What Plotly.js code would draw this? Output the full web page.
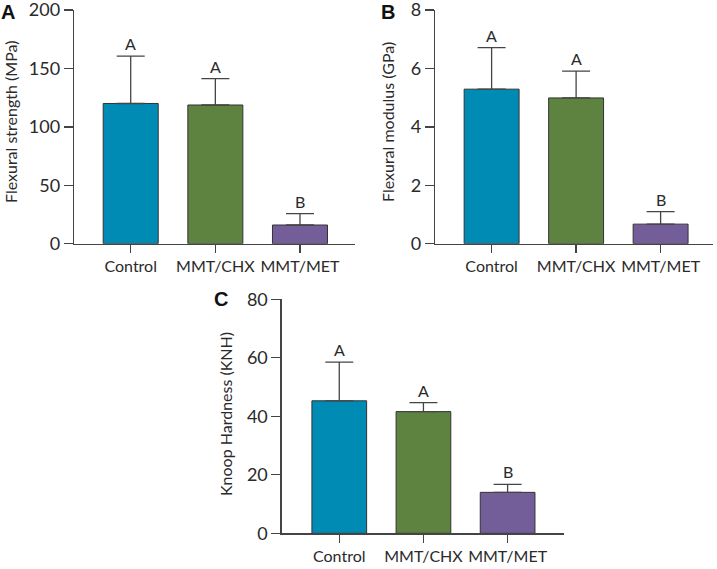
<!DOCTYPE html>
<html>
<head>
<meta charset="utf-8">
<script src="https://cdn.plot.ly/plotly-3.0.1.min.js"></script>
<style>html,body{margin:0;padding:0;background:#fff;}#chart{width:717px;height:569px;}</style>
</head>
<body>
<div id="chart"></div>
<script>
// ---- data ----
const categories = ["Control", "MMT/CHX", "MMT/MET"];

const strengthMean = [120, 118.7, 16];
const strengthErr = [40.6, 22.5, 9.7];
const strengthLetters = ["A", "A", "B"];

const modulusMean = [5.29, 4.99, 0.67];
const modulusErr = [1.42, 0.92, 0.43];
const modulusLetters = ["A", "A", "B"];

const hardnessMean = [45.3, 41.6, 14.0];
const hardnessErr = [13.2, 3.1, 2.75];
const hardnessLetters = ["A", "A", "B"];

const yTitles = ["Flexural strength (MPa)", "Flexural modulus (GPa)", "Knoop Hardness (KNH)"];
const panelLabels = ["A", "B", "C"];

// ---- styles ----
const barColors = ["#008BB5", "#5E8340", "#745E9A"];
const FONT = "Lato, 'Noto Sans', sans-serif";
const textColor = "#2a2a2a";
const lineColor = "#444";
const W = 717, H = 569;

function barTrace(means, errs, xa, ya) {
  return {
    type: "bar",
    x: categories,
    y: means,
    xaxis: xa,
    yaxis: ya,
    width: 0.65,
    marker: { color: barColors, line: { color: "#333", width: 1 } },
    error_y: {
      type: "data", symmetric: false, array: errs,
      arrayminus: errs.map(() => 0),
      color: lineColor, thickness: 1.3, width: 14
    },
    hoverinfo: "skip",
    showlegend: false
  };
}

const data = [
  barTrace(strengthMean, strengthErr, "x", "y"),
  barTrace(modulusMean, modulusErr, "x2", "y2"),
  barTrace(hardnessMean, hardnessErr, "x3", "y3")
];

function xAxis(d0, d1, r, anchor) {
  return {
    domain: [d0 / W, d1 / W], range: r, anchor: anchor,
    type: "category", showline: true, linecolor: lineColor, linewidth: 1.3,
    ticks: "outside", ticklen: 8, tickcolor: lineColor, tickwidth: 1.3,
    showgrid: false, zeroline: false, fixedrange: true,
    tickfont: { family: FONT, size: 16, color: textColor }
  };
}
function yAxis(top, bottom, r, dt, anchor) {
  return {
    domain: [1 - bottom / H, 1 - top / H], range: r, dtick: dt, anchor: anchor,
    showline: true, linecolor: lineColor, linewidth: 1.3,
    ticks: "outside", ticklen: 9, tickcolor: lineColor, tickwidth: 1.3,
    showgrid: false, zeroline: false, fixedrange: true,
    ticklabeloverflow: "allow",
    tickfont: { family: FONT, size: 18, color: textColor }
  };
}

const annotations = [];
function addLetters(means, errs, letters, xref, yref) {
  for (let i = 0; i < categories.length; i++) {
    annotations.push({
      x: categories[i], y: means[i] + errs[i], xref: xref, yref: yref,
      text: letters[i], showarrow: false, yanchor: "bottom", yshift: 1,
      font: { family: FONT, size: 16, color: textColor }
    });
  }
}
addLetters(strengthMean, strengthErr, strengthLetters, "x", "y");
addLetters(modulusMean, modulusErr, modulusLetters, "x2", "y2");
addLetters(hardnessMean, hardnessErr, hardnessLetters, "x3", "y3");

// axis titles as rotated annotations
const titlePos = [[10, 122], [387, 122], [225, 414]];
titlePos.forEach((p, i) => {
  annotations.push({
    x: p[0] / W, y: 1 - p[1] / H, xref: "paper", yref: "paper",
    text: yTitles[i], textangle: -90, showarrow: false,
    xanchor: "center", yanchor: "middle",
    font: { family: FONT, size: 16, color: textColor }
  });
});
// panel labels
const labelPos = [[8, 12], [388, 12], [221, 299]];
labelPos.forEach((p, i) => {
  annotations.push({
    x: p[0] / W, y: 1 - p[1] / H, xref: "paper", yref: "paper",
    text: "<b>" + panelLabels[i] + "</b>", showarrow: false,
    xanchor: "center", yanchor: "middle", borderpad: 0,
    font: { family: "'Liberation Sans', Arial, sans-serif", size: 20, color: "#111" }
  });
});

const layout = {
  width: W, height: H,
  margin: { l: 0, r: 0, t: 0, b: 0 },
  paper_bgcolor: "#fff", plot_bgcolor: "rgba(0,0,0,0)",
  showlegend: false,
  xaxis: xAxis(74, 355, [-0.67, 2.65], "y"),
  yaxis: yAxis(10, 243.7, [0, 200], 50, "x"),
  xaxis2: xAxis(435, 713, [-0.67, 2.62], "y2"),
  yaxis2: yAxis(10, 243.7, [0, 8], 2, "x2"),
  xaxis3: xAxis(281.7, 564, [-0.684, 2.67], "y3"),
  yaxis3: yAxis(299.3, 533.3, [0, 80], 20, "x3"),
  annotations: annotations
};

Plotly.newPlot("chart", data, layout, { displayModeBar: false, staticPlot: true });
</script>
</body>
</html>
